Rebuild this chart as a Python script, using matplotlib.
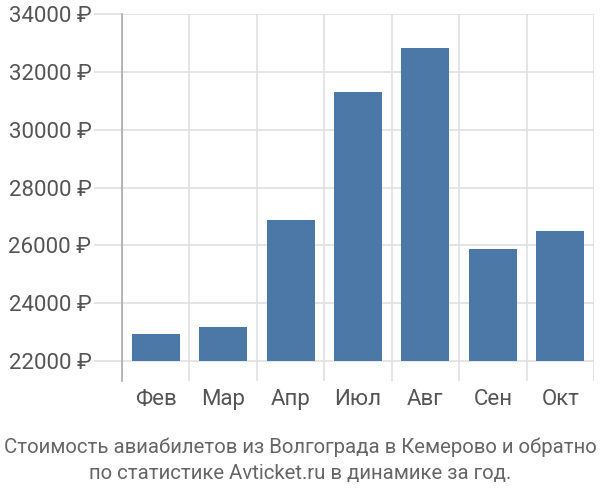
import matplotlib.pyplot as plt
import numpy as np

months = ['Фев', 'Мар', 'Апр', 'Июл', 'Авг', 'Сен', 'Окт']
prices = [22920, 23190, 26880, 31320, 32810, 25890, 26480]
yticks = [22000, 24000, 26000, 28000, 30000, 32000, 34000]

plt.rcParams['font.family'] = ['Roboto', 'DejaVu Sans']

fig = plt.figure(figsize=(6, 5), dpi=100)
ax = fig.add_axes([122 / 600, 1 - 381 / 500, 472 / 600, 367 / 500])

x = np.arange(len(months))
base = 22000
ax.bar(x, [p - base for p in prices], bottom=base, width=0.71,
       color='#4c78a8', zorder=3)

ax.set_xlim(-0.5, len(months) - 0.5)
ax.set_ylim(21310, 34000)

ax.set_yticks(yticks)
ax.set_yticklabels([f'{t} ₽' for t in yticks])
ax.set_xticks(x)
ax.set_xticklabels(months)
ax.set_xticks(np.arange(len(months) + 1) - 0.5, minor=True)

ax.grid(True, axis='y', color='#e0e0e0', linewidth=1.2, zorder=0)
ax.grid(True, axis='x', which='minor', color='#e0e0e0', linewidth=1.2, zorder=0)
ax.tick_params(axis='y', length=20, color='#e0e0e0', width=1.2,
               labelsize=16, labelcolor='#555555', pad=2)
ax.tick_params(axis='x', which='major', length=0, labelsize=16,
               labelcolor='#555555', pad=6)
ax.tick_params(axis='x', which='minor', length=0)

for s in ['top', 'right', 'bottom']:
    ax.spines[s].set_visible(False)
ax.spines['left'].set_color('#aaaaaa')
ax.spines['left'].set_linewidth(1.2)

fig.text(0.5, 0.079, 'Стоимость авиабилетов из Волгограда в Кемерово и обратно\n'
         'по статистике Avticket.ru в динамике за год.',
         ha='center', va='center', fontsize=14.7, color='#666666',
         linespacing=1.45)

fig.savefig('out.png', dpi=100)
